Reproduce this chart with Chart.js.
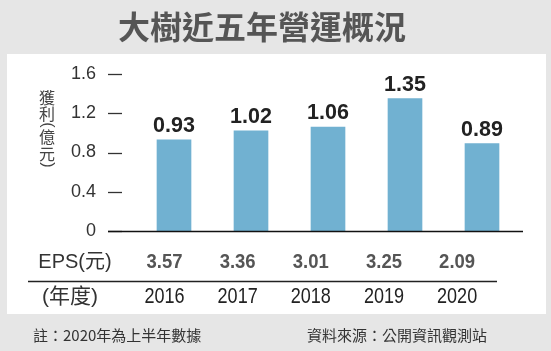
<!DOCTYPE html>
<html>
<head>
<meta charset="utf-8">
<script src="https://cdn.jsdelivr.net/npm/chart.js@4"></script>
<style>
  html, body { margin: 0; padding: 0; background: #e6e6e6; }
  canvas { display: block; }
</style>
</head>
<body>
<canvas id="chart" width="551" height="351"></canvas>
<script>
const title = '大樹近五年營運概況'
const years = ['2016', '2017', '2018', '2019', '2020']
const profit = [0.93, 1.02, 1.06, 1.35, 0.89]
const eps = [3.57, 3.36, 3.01, 3.25, 2.09]
const yTicks = [0, 0.4, 0.8, 1.2, 1.6]
const yTitle = ['獲', '利', '(', '億', '元', ')']
const note = '註：2020年為上半年數據'
const source = '資料來源：公開資訊觀測站'

const SANS = "'Liberation Sans', Arial, sans-serif"
const CJK = "'Liberation Sans', 'Noto Sans CJK TC', sans-serif"

// draw text squeezed horizontally (the original uses a condensed face)
function squeezed(ctx, text, x, y, sx) {
  ctx.save()
  ctx.translate(x, y)
  ctx.scale(sx, 1)
  ctx.fillText(text, 0, 0)
  ctx.restore()
}

// the table rows under the chart sit on a slightly tighter grid than the bars
function rowX(scale, i) {
  const first = scale.getPixelForValue(0)
  return first - 9.5 + (scale.getPixelForValue(i) - first) * 0.95
}

const decor = {
  id: 'decor',
  beforeDraw(chart) {
    const ctx = chart.ctx
    ctx.save()
    ctx.fillStyle = '#e6e6e6'
    ctx.fillRect(0, 0, chart.width, chart.height)
    ctx.fillStyle = '#ffffff'
    ctx.fillRect(7, 54, 539, 260)

    ctx.fillStyle = '#555555'
    ctx.font = "bold 32px 'Noto Sans CJK TC', sans-serif"
    ctx.textAlign = 'center'
    ctx.textBaseline = 'middle'
    ctx.fillText(title, 262, 27)

    // vertical axis title
    ctx.fillStyle = '#444444'
    const ys = [98, 114, 125, 137, 154, 165]
    yTitle.forEach((ch, i) => {
      if (ch === '(' || ch === ')') {
        ctx.save()
        ctx.translate(47, ys[i])
        ctx.rotate(Math.PI / 2)
        ctx.font = '16px ' + SANS
        ctx.fillText(ch, 0, 0)
        ctx.restore()
      } else {
        ctx.font = "16px 'Noto Sans CJK TC', sans-serif"
        ctx.fillText(ch, 47, ys[i])
      }
    })

    // footer
    ctx.fillStyle = '#333333'
    ctx.font = "15px 'Noto Sans CJK TC', sans-serif"
    ctx.textAlign = 'left'
    ctx.fillText(note, 33, 335)
    ctx.textAlign = 'right'
    ctx.fillText(source, 487, 335)
    ctx.restore()
  },
  afterDatasetsDraw(chart) {
    const ctx = chart.ctx
    const x = chart.scales.x
    const y = chart.scales.y
    const y0 = y.getPixelForValue(0)
    ctx.save()

    // tick dashes and baseline
    ctx.strokeStyle = '#333333'
    ctx.lineWidth = 1.3
    yTicks.forEach(v => {
      const py = Math.round(y.getPixelForValue(v)) + 0.5
      ctx.beginPath()
      ctx.moveTo(108, py)
      ctx.lineTo(122, py)
      ctx.stroke()
    })
    ctx.strokeStyle = '#111111'
    ctx.lineWidth = 1.5
    ctx.beginPath()
    ctx.moveTo(108, Math.round(y0) + 0.5)
    ctx.lineTo(523, Math.round(y0) + 0.5)
    ctx.stroke()

    // value labels
    const meta = chart.getDatasetMeta(0)
    ctx.fillStyle = '#222222'
    ctx.font = 'bold 21.5px ' + SANS
    ctx.textAlign = 'center'
    ctx.textBaseline = 'alphabetic'
    meta.data.forEach((bar, i) => {
      squeezed(ctx, profit[i].toFixed(2), bar.x, bar.y - 8, 1.0)
    })

    // EPS row
    ctx.textBaseline = 'middle'
    ctx.fillStyle = '#333333'
    ctx.font = '20px ' + CJK
    ctx.fillText('EPS(元)', 75, 262)
    ctx.fillStyle = '#555555'
    ctx.font = 'bold 21px ' + SANS
    eps.forEach((v, i) => {
      squeezed(ctx, v.toFixed(2), rowX(x, i), 262, 0.88)
    })

    // separator
    ctx.strokeStyle = '#222222'
    ctx.lineWidth = 1.3
    ctx.beginPath()
    ctx.moveTo(28, 281.5)
    ctx.lineTo(497, 281.5)
    ctx.stroke()

    // year row
    ctx.fillStyle = '#333333'
    ctx.font = '21px ' + CJK
    ctx.fillText('(年度)', 70, 297)
    ctx.fillStyle = '#222222'
    ctx.font = '22px ' + SANS
    years.forEach((yr, i) => {
      squeezed(ctx, yr, rowX(x, i), 297, 0.82)
    })
    ctx.restore()
  }
}

new Chart(document.getElementById('chart'), {
  type: 'bar',
  data: {
    labels: years,
    datasets: [{
      data: profit,
      backgroundColor: '#71b1d1',
      barThickness: 34
    }]
  },
  options: {
    responsive: false,
    animation: false,
    devicePixelRatio: 1,
    layout: {
      padding: { left: 0, right: 30.5, top: 74, bottom: 120 }
    },
    plugins: {
      legend: { display: false },
      tooltip: { enabled: false }
    },
    scales: {
      x: {
        display: false
      },
      y: {
        min: 0,
        max: 1.6,
        afterFit(scale) {
          scale.width = 135.5
        },
        afterBuildTicks(scale) {
          scale.ticks = yTicks.map(v => ({ value: v }))
        },
        grid: { display: false },
        border: { display: false },
        ticks: {
          padding: 31.5,
          color: '#333333',
          font: { family: SANS, size: 18 },
          callback: v => (v === 0 ? '0' : v.toFixed(1))
        }
      }
    }
  },
  plugins: [decor]
})
</script>
</body>
</html>
